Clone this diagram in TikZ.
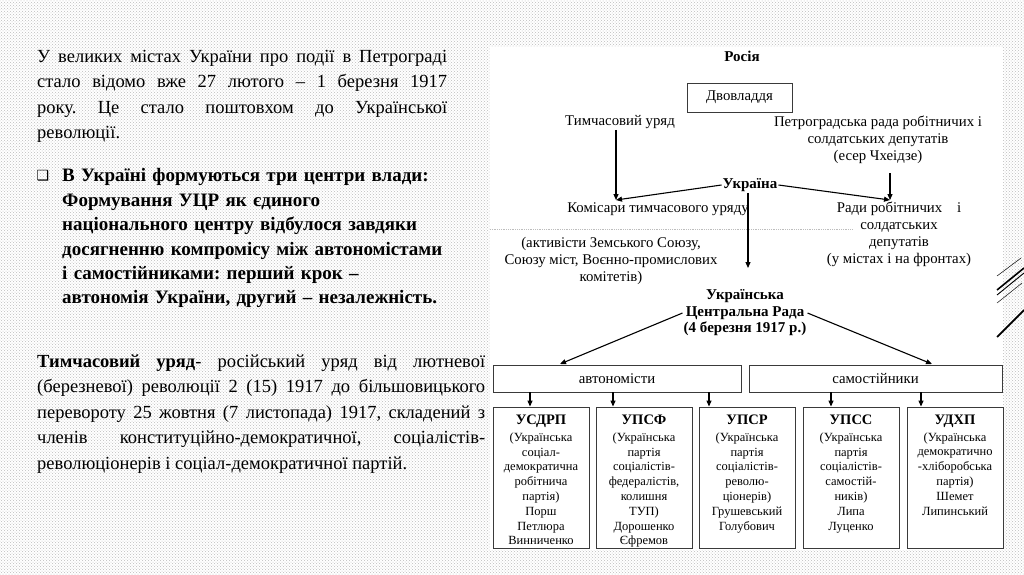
\documentclass[tikz,border=0pt]{standalone}
\usepackage{fontspec}
\setmainfont{Liberation Serif}
\newfontfamily\bulletfont{DejaVu Sans}
\usepackage{tikz}
\usetikzlibrary{arrows.meta,positioning,calc,patterns}
\definecolor{SlideDots}{HTML}{BDBDBD}
\definecolor{BoxLine}{HTML}{3A3A3A}
\newcommand{\partyname}[1]{{\fontsize{14.5}{16}\selectfont\bfseries #1}}
\frenchspacing

\begin{document}
\begin{tikzpicture}[x=1pt, y=-1pt,
  lbl/.style={inner sep=1pt, align=center, font=\fontsize{14.8}{17}\selectfont},
  hdr/.style={lbl, font=\fontsize{15}{16.5}\selectfont\bfseries},
  rbox/.style={draw=BoxLine, line width=0.9pt},
  party/.style={rbox, minimum width=96pt, minimum height=141pt, inner sep=0pt},
  partytxt/.style={anchor=north, inner sep=0pt, align=center, font=\fontsize{12.5}{14.8}\selectfont},
  arr/.style={-{Triangle[length=6pt,width=5pt]}, line width=1.1pt},
  para/.style={anchor=north west, inner sep=0pt, align=justify, font=\fontsize{18.5}{25.5}\selectfont}]
\useasboundingbox (0,0) rectangle (1024,574);

% Slide background and white panel of the scheme
\fill[white] (0,0) rectangle (1024,574);
\fill[pattern=crosshatch dots, pattern color=SlideDots] (0,0) rectangle (1024,574);
\fill[white] (490,47) rectangle (1003,550);

% Left column text
\node[para, text width=410pt] (intro) at (37,50)
  {У великих містах України про події в Петрограді\linebreak
   стало відомо вже 27 лютого – 1 березня 1917\linebreak
   року. Це стало поштовхом до Української\linebreak
   революції.};
\node[inner sep=0pt, font=\bulletfont\fontsize{14}{14}\selectfont] (bul) at (43,176) {❑};
\node[para, align=left, text width=430pt, font=\fontsize{19}{24.4}\selectfont\bfseries] (centres) at (62,168.5)
  {В Україні формуються три центри влади:\\
   Формування УЦР як єдиного\\
   національного центру відбулося завдяки\\
   досягненню компромісу між автономістами\\
   і самостійниками: перший крок –\\
   автономія України, другий – незалежність.};
\node[para, text width=448pt] (uriad) at (37,354.5)
  {\textbf{Тимчасовий уряд}- російський уряд від лютневої\linebreak
   (березневої) революції 2 (15) 1917 до більшовицького\linebreak
   перевороту 25 жовтня (7 листопада) 1917, складений з\linebreak
   членів конституційно-демократичної, соціалістів-\linebreak
   революціонерів і соціал-демократичної партій.};

% Russia level
\node[hdr] (rossia) at (742,56) {Росія};
\node[lbl, rbox, minimum width=105pt, minimum height=29pt] (dvo) at (739.5,97.5) {Двовладдя};
\node[lbl] (tymch) at (620,122) {Тимчасовий уряд};
\node[lbl] (petro) at (878,140) {Петроградська рада робітничих і\\солдатських депутатів\\(есер Чхеідзе)};

% Ukraine level
\node[hdr] (ukr) at (750,185) {Україна};
\node[lbl] (komis) at (658,209) {Комісари тимчасового уряду};
\node[lbl] (rady) at (899,234) {Ради робітничих\quad і\\солдатських\\депутатів\\(у містах і на фронтах)};
\node[lbl] (aktyv) at (611,261) {(активісти Земського Союзу,\\Союзу міст, Воєнно-промислових\\комітетів)};
\node[hdr] (ucr) at (745,313) {Українська\\Центральна Рада\\(4 березня 1917 р.)};
\draw[densely dotted, SlideDots, line width=0.8pt] (490,229) -- (853,229);

\coordinate (kt) at (616,200);
\coordinate (rd) at (890,200);
\coordinate (ucrtop) at (748,268);
\draw[arr] ([xshift=-4pt]tymch.south) -- (kt);
\draw[arr] ([yshift=-8pt]petro.south -| rd) -- (rd);
\draw[arr] (ukr.west) -- (kt);
\draw[arr] (ukr.east) -- (rd);
\draw[arr] (ukr.south -| ucrtop) -- (ucrtop);

% Two camps
\node[lbl, rbox, minimum width=248pt, minimum height=27pt] (auton) at (617,378.5) {автономісти};
\node[lbl, rbox, minimum width=253pt, minimum height=27pt] (samost) at (875.5,378.5) {самостійники};
\coordinate (al) at (560,364);
\coordinate (ar) at (932,364);
\draw[arr] (ucr.west) -- (al);
\draw[arr] (ucr.east) -- (ar);

% Parties
\foreach \n/\x in {p1/541, p2/644, p3/747, p4/851, p5/955}
  \node[party] (\n) at (\x,477.5) {};

\foreach \b/\d in {p1/-11, p2/-31, p3/-38}
  \draw[arr] ([xshift=\d pt]auton.south -| \b.north) -- ([xshift=\d pt]\b.north);
\foreach \b/\d in {p4/-20, p5/-34}
  \draw[arr] ([xshift=\d pt]samost.south -| \b.north) -- ([xshift=\d pt]\b.north);

\node[partytxt] (p1t) at ([yshift=-8.4pt]p1.north)
  {\partyname{УСДРП}\\[1.7pt](Українська\\соціал-\\демократична\\робітнича\\партія)\\Порш\\Петлюра\\Винниченко};
\node[partytxt] (p2t) at ([yshift=-8.4pt]p2.north)
  {\partyname{УПСФ}\\[1.7pt](Українська\\партія\\соціалістів-\\федералістів,\\колишня\\ТУП)\\Дорошенко\\Єфремов};
\node[partytxt] (p3t) at ([yshift=-8.4pt]p3.north)
  {\partyname{УПСР}\\[1.7pt](Українська\\партія\\соціалістів-\\револю-\\ціонерів)\\Грушевський\\Голубович};
\node[partytxt] (p4t) at ([yshift=-8.4pt]p4.north)
  {\partyname{УПСС}\\[1.7pt](Українська\\партія\\соціалістів-\\самостій-\\ників)\\Липа\\Луценко};
\node[partytxt] (p5t) at ([yshift=-8.4pt]p5.north)
  {\partyname{УДХП}\\[1.7pt](Українська\\демократично\\-хліборобська\\партія)\\Шемет\\Липинський};

% Slide decoration on the right edge
\draw[line width=0.5pt] (997,276) -- (1021,258);
\draw[line width=1.6pt] (997,290) -- (1024,268);
\draw[line width=0.9pt] (997,295) -- (1024,273);
\draw[line width=0.5pt] (997,303) -- (1022,283);
\draw[line width=1.8pt] (997,337) -- (1024,310);

\end{tikzpicture}
\end{document}
